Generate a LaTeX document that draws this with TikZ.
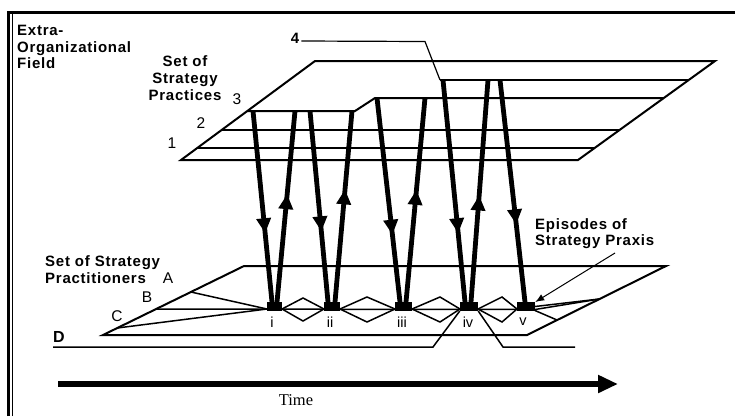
\documentclass[tikz,border=0pt]{standalone}
\usepackage{fontspec}
\setmainfont{Liberation Serif}
\newfontfamily\lsans[LetterSpace=5]{Liberation Sans}
\newfontfamily\lsanr{Liberation Sans}
\usetikzlibrary{arrows.meta,calc,decorations.markings}
\tikzset{
  boldlbl/.style={font=\lsans\bfseries\fontsize{15}{16.7}\selectfont, inner sep=0pt},
  reglbl/.style={font=\lsanr\fontsize{15.5}{17}\selectfont, inner sep=0pt},
  epilbl/.style={font=\lsanr\fontsize{14.5}{16}\selectfont, inner sep=0pt},
  plane/.style={line width=2pt, line join=miter},
  thinln/.style={line width=1.5pt, line join=miter},
  blk/.style={fill=black, draw=none, minimum height=8.5pt, inner sep=0pt},
  flow/.style={line width=4.8pt, postaction={decorate, decoration={markings,
      mark=at position #1 with {\arrow{Triangle[length=15pt,width=14pt]}}}}},
}
\begin{document}
\begin{tikzpicture}[x=1pt,y=-1pt]
\useasboundingbox (0,0) rectangle (735,416);
% frame
\draw[line width=2.5pt] (8.5,416) -- (8.5,11.5);
\draw[line width=3.5pt] (7.25,12.5) -- (735,12.5);
\draw[line width=1.2pt] (12.5,416) -- (12.5,14);

% labels
\node[boldlbl, align=left, anchor=north west] (field) at (17,25) {Extra-\\Organizational\\Field};
\node[boldlbl, align=center] (practices) at (185,78) {Set of\\Strategy\\Practices};
\node[boldlbl, align=left, anchor=west] (practitioners) at (45,269.5) {Set of Strategy\\Practitioners};
\node[boldlbl, align=left, anchor=west] (episodes) at (535,233.5) {Episodes of\\Strategy Praxis};
\node[reglbl] (l1) at (172,143) {1};
\node[reglbl] (l2) at (201,123) {2};
\node[reglbl] (l3) at (237,99) {3};
\node[boldlbl] (l4) at (295,38) {4};
\node[reglbl] (lA) at (168,278) {A};
\node[reglbl] (lB) at (147,297) {B};
\node[reglbl] (lC) at (117,316) {C};
\node[boldlbl, font=\lsans\bfseries\fontsize{16}{18}\selectfont] (lD) at (59,337) {D};
\node[font=\fontsize{16.5}{18}\selectfont, inner sep=0pt] (time) at (296,400) {Time};

% top plane
\draw[plane] (315,61) -- (715,61) -- (578,160) -- (181,160) -- cycle;
\draw[plane] (197.2,148) -- (594.6,148);
\draw[plane] (221.6,130) -- (619.5,130);
\draw[plane] (247,111) -- (355,111) -- (375,98) -- (663.8,98);
\coordinate (c4) at (440,80);
\draw[line width=1.2pt] (l4.east) ++(2,3) -- (425,41.5) -- (c4);
\draw[plane] (c4) -- (688.7,80);

% episode blocks
\node[blk, minimum width=15pt] (e1) at (274.5,306.5) {};
\node[blk, minimum width=16pt] (e2) at (332,306.5) {};
\node[blk, minimum width=17pt] (e3) at (403.5,306.5) {};
\node[blk, minimum width=18pt] (e4) at (469,306.5) {};
\node[blk, minimum width=18pt] (e5) at (526,306.5) {};
\node[epilbl] (n1) at (272,322) {i};
\node[epilbl] (n2) at (330,322) {ii};
\node[epilbl] (n3) at (402,322) {iii};
\node[epilbl] (n4) at (468,322) {iv};
\node[epilbl] (n5) at (523,322) {v};

% bottom plane
\draw[plane] (244,266) -- (666,266) -- (527,335) -- (103,335) -- cycle;
\draw[thinln] (190.9,292) -- (267,309);
\draw[thinln] (156,309) -- (535,309.5) -- (599.5,299);
\draw[thinln] (117.2,328) -- (267,309);
\draw[thinln] (535,306.5) -- (599.5,299);
\draw[thinln] (535,310.5) -- (557,320);
% diamonds
\draw[thinln] (282,309) -- (303,298) -- (324,309) -- (303,321) -- cycle;
\draw[thinln] (340,309) -- (367,297) -- (395,309) -- (367,322) -- cycle;
\draw[thinln] (412,309) -- (440,297) -- (460,309) -- (440,322) -- cycle;
\draw[thinln] (478,309) -- (502,297) -- (517,309) -- (502,322) -- cycle;
% D line
\draw[thinln] (53,347) -- (433,347) -- (e4.south west);
\draw[thinln] (e4.south east) -- (503,347) -- (575,347);

% flows
\coordinate (t1) at (253,111);
\coordinate (t2) at (295,111);
\coordinate (t3) at (310,111);
\coordinate (t4) at (352,111);
\coordinate (t5) at (377,98);
\coordinate (t6) at (425,98);
\coordinate (t7) at (443,80);
\coordinate (t8) at (488,80);
\coordinate (t9) at (500,80);
\draw[flow=0.64] (t1) -- ($(e1.north)+(-2.5,0)$);
\draw[flow=0.565] ($(e1.north)+(2.5,0)$) -- (t2);
\draw[flow=0.63] (t3) -- ($(e2.north)+(-4,0)$);
\draw[flow=0.59] ($(e2.north)+(3,0)$) -- (t4);
\draw[flow=0.67] (t5) -- ($(e3.north)+(-3.5,0)$);
\draw[flow=0.55] ($(e3.north)+(2.5,0)$) -- (t6);
\draw[flow=0.69] (t7) -- ($(e4.north)+(-4,0)$);
\draw[flow=0.48] ($(e4.north)+(2,0)$) -- (t8);
\draw[flow=0.65] (t9) -- ($(e5.north)+(-1,0)$);

% episodes leader
\coordinate (epl) at (615,253);
\draw[line width=1pt, -{Latex[length=9pt,width=7pt]}] (epl) -- (e5.north east);

% time axis
\coordinate (ts) at (58,384);
\coordinate (te) at (618,384);
\draw[line width=5.5pt, -{Triangle[length=20pt,width=17pt]}] (ts) -- (te);
\end{tikzpicture}
\end{document}
